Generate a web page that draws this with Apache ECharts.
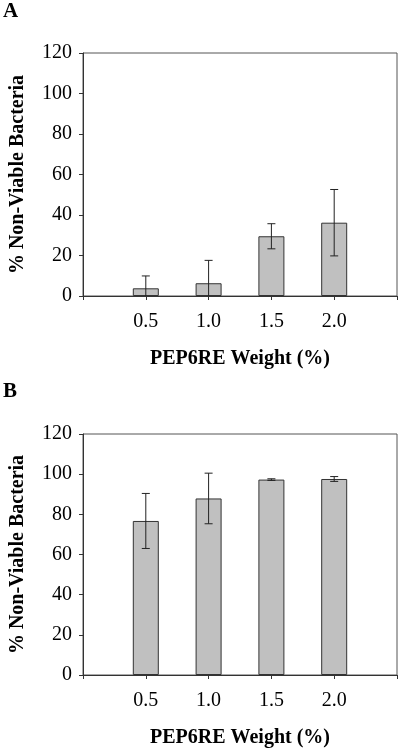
<!DOCTYPE html>
<html>
<head>
<meta charset="utf-8">
<script src="https://cdn.jsdelivr.net/npm/echarts@6/dist/echarts.min.js"></script>
<style>
html,body{margin:0;padding:0;background:#fff;}
#chart{width:400px;height:749px;}
</style>
</head>
<body>
<div id="chart"></div>
<script>
const weights = [0.5, 1.0, 1.5, 2.0];
const meanA = [3.8, 6.3, 29.5, 36.2];
const errA = [6.1, 11.3, 6.2, 16.4];
const meanB = [76.7, 87.9, 97.3, 97.6];
const errB = [13.7, 12.6, 0.4, 1.2];
const yTicks = [0, 20, 40, 60, 80, 100, 120];
const panelLabels = ['A', 'B'];
const xTitle = 'PEP6RE Weight (%)';
const yTitle = '% Non-Viable Bacteria';

const FONT = '"Liberation Serif", "Times New Roman", serif';
const chart = echarts.init(document.getElementById('chart'), null, {renderer: 'canvas'});

function xAxisCfg(gi) {
  return {
    gridIndex: gi, type: 'value', min: 0, max: 2.5, interval: 0.5,
    name: xTitle, nameLocation: 'middle', nameGap: 53,
    nameTextStyle: {fontFamily: FONT, fontWeight: 'bold', fontSize: 20, color: '#000'},
    axisLine: {show: true, onZero: false, lineStyle: {color: '#333', width: 1}},
    axisTick: {show: true, inside: false, length: 4, lineStyle: {color: '#333'}},
    axisLabel: {fontFamily: FONT, fontSize: 20, color: '#000', margin: 16,
      formatter: v => (v > 0.01 && v < 2.49) ? v.toFixed(1) : ''},
    splitLine: {show: false}
  };
}
function yAxisCfg(gi) {
  return {
    gridIndex: gi, type: 'value', min: yTicks[0], max: yTicks[yTicks.length - 1], interval: 20,
    name: yTitle, nameLocation: 'middle', nameGap: 55, nameRotate: 90,
    nameTextStyle: {fontFamily: FONT, fontWeight: 'bold', fontSize: 20, color: '#000'},
    axisLine: {show: true, lineStyle: {color: '#333', width: 1}},
    axisTick: {show: true, length: 4, lineStyle: {color: '#333'}},
    axisLabel: {fontFamily: FONT, fontSize: 20, color: '#000', margin: 11},
    splitLine: {show: false}
  };
}
function barSeries(gi, means) {
  return {
    type: 'bar', xAxisIndex: gi, yAxisIndex: gi, barWidth: 26,
    data: weights.map((w, i) => [w, means[i]]),
    itemStyle: {color: '#c0c0c0', borderColor: '#333', borderWidth: 1},
    silent: true, z: 2
  };
}
function errSeries(gi, means, errs) {
  return {
    type: 'custom', xAxisIndex: gi, yAxisIndex: gi, z: 5, silent: true,
    data: weights.map((w, i) => [w, means[i], means[i] - errs[i], means[i] + errs[i]]),
    renderItem: function (params, api) {
      const x = api.value(0);
      const lo = api.value(2), hi = api.value(3);
      const top = api.coord([x, hi]);
      const loC = api.coord([x, Math.max(lo, 0)]);
      const half = 4;
      const style = {stroke: '#222', lineWidth: 1};
      const children = [
        {type: 'line', shape: {x1: top[0], y1: top[1], x2: loC[0], y2: loC[1]}, style},
        {type: 'line', shape: {x1: top[0] - half, y1: top[1], x2: top[0] + half, y2: top[1]}, style}
      ];
      if (lo >= 0) {
        children.push({type: 'line', shape: {x1: loC[0] - half, y1: loC[1], x2: loC[0] + half, y2: loC[1]}, style});
      }
      return {type: 'group', children};
    }
  };
}

chart.setOption({
  animation: false,
  backgroundColor: '#fff',
  title: [
    {text: panelLabels[0], left: 3, top: 1, padding: 0, textStyle: {fontFamily: FONT, fontWeight: 'bold', fontSize: 21, color: '#000'}},
    {text: panelLabels[1], left: 3, top: 381, padding: 0, textStyle: {fontFamily: FONT, fontWeight: 'bold', fontSize: 21, color: '#000'}}
  ],
  grid: [
    {left: 80, top: 53, width: 319, height: 243, show: true, borderColor: '#555', borderWidth: 1, backgroundColor: 'transparent'},
    {left: 80, top: 434, width: 319, height: 243, show: true, borderColor: '#555', borderWidth: 1, backgroundColor: 'transparent'}
  ],
  xAxis: [xAxisCfg(0), xAxisCfg(1)],
  yAxis: [yAxisCfg(0), yAxisCfg(1)],
  series: [
    barSeries(0, meanA), errSeries(0, meanA, errA),
    barSeries(1, meanB), errSeries(1, meanB, errB)
  ]
});
</script>
</body>
</html>
